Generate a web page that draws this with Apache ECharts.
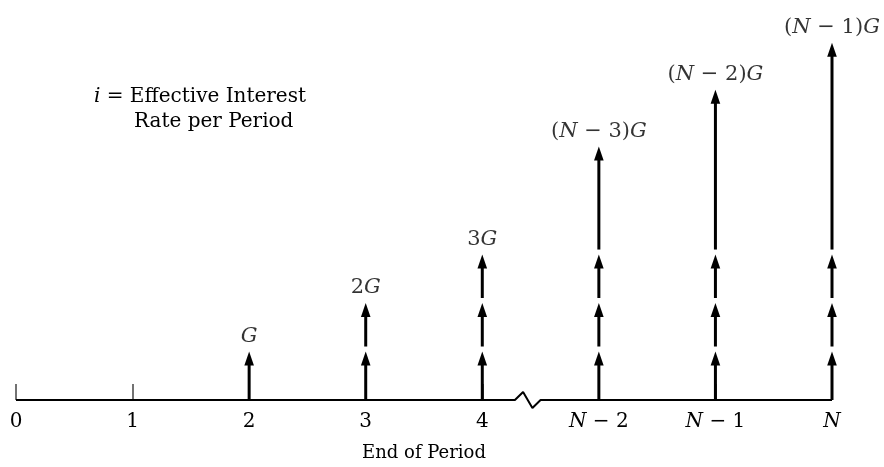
<!DOCTYPE html>
<html>
<head>
<meta charset="utf-8">
<script src="https://cdn.jsdelivr.net/npm/echarts@6/dist/echarts.min.js"></script>
<style>
html,body{margin:0;padding:0;background:#fff;}
#c{width:884px;height:467px;}
</style>
</head>
<body>
<div id="c"></div>
<script>
// ---- data ----
const categories = ['0', '1', '2', '3', '4', 'N − 2', 'N − 1', 'N'];
const arrowPositions = [2, 3, 4, 5, 6, 7];           // index on the period axis
const unitSegments   = [1, 2, 3, 3, 3, 3];           // stacked G-sized pieces
const arrowTops      = [1, 2, 3, 5.23, 6.40, 7.37];  // total height in G units
const arrowLabels    = ['G', '2G', '3G', '(N − 3)G', '(N − 2)G', '(N − 1)G'];
const breakX = [4.28, 4.35, 4.43, 4.50];             // zigzag break in axis
const breakY = [0, 0.165, -0.165, 0];
const axisTitle = 'End of Period';
const noteLine1 = 'i = Effective Interest';
const noteLine2 = 'Rate per Period';

const FONT = 'DejaVu Serif';
const INK = '#000';

function mathFmt(s) {
  return s.replace(/([NGi])(?![a-z])/g, '{it|$1}');
}
function richFor(size) {
  return { it: { fontFamily: FONT, fontStyle: 'italic', fontSize: size, color: INK } };
}

const baseline = [[0, 0]];
breakX.forEach((x, i) => baseline.push([x, breakY[i]]));
baseline.push([categories.length - 1, 0]);

const arrowData = arrowPositions.map((x, i) => [x, unitSegments[i], arrowTops[i]]);
const labelData = arrowPositions.map((x, i) => [x, arrowTops[i]]);

function renderArrow(params, api) {
  const x = api.value(0), n = api.value(1), top = api.value(2);
  const bounds = [];
  for (let k = 1; k <= n; k++) bounds.push(k);
  if (top > n + 0.01) bounds.push(top);
  const children = [];
  let prevTip = api.coord([x, 0])[1];
  const gap = 5, headH = 14, headW = 4.8;
  bounds.forEach((b, i) => {
    const tip = api.coord([x, b]);
    const y0 = i === 0 ? prevTip : prevTip - gap;
    children.push({
      type: 'line',
      shape: { x1: tip[0], y1: y0, x2: tip[0], y2: tip[1] + headH - 3 },
      style: { stroke: '#000', lineWidth: 3 }
    });
    children.push({
      type: 'polygon',
      shape: { points: [[tip[0], tip[1]], [tip[0] - headW, tip[1] + headH], [tip[0] + headW, tip[1] + headH]] },
      style: { fill: '#000' }
    });
    prevTip = tip[1];
  });
  return { type: 'group', children };
}

const chart = echarts.init(document.getElementById('c'), null, { renderer: 'canvas' });
chart.setOption({
  backgroundColor: '#fff',
  animation: false,
  title: [
    {
      text: mathFmt(noteLine1),
      left: 94, top: 87, padding: 0,
      textStyle: {
        fontFamily: FONT, fontSize: 20, fontWeight: 'normal', color: INK,
        rich: richFor(20)
      }
    },
    {
      text: noteLine2,
      left: 134, top: 112, padding: 0,
      textStyle: { fontFamily: FONT, fontSize: 20, fontWeight: 'normal', color: INK }
    }
  ],
  grid: { left: 16, right: 52, top: 0, bottom: 66 },
  xAxis: {
    type: 'value', min: 0, max: categories.length - 1, interval: 1,
    name: axisTitle, nameLocation: 'middle', nameGap: 44,
    nameTextStyle: { fontFamily: FONT, fontSize: 18, color: INK },
    axisLine: { show: false, onZero: false },
    axisTick: { show: true, inside: true, length: 16, lineStyle: { color: '#444', width: 1.5 } },
    splitLine: { show: false },
    axisLabel: {
      margin: 12, fontFamily: FONT, fontSize: 20, color: INK,
      formatter: v => mathFmt(categories[v] || ''),
      rich: richFor(20)
    }
  },
  yAxis: { type: 'value', min: 0, max: 8.25, show: false, splitLine: { show: false } },
  series: [
    {
      type: 'line', data: baseline, clip: false, symbol: 'none', silent: true,
      lineStyle: { color: '#000', width: 2 }, z: 3
    },
    {
      type: 'custom', data: arrowData, renderItem: renderArrow, clip: false, z: 4
    },
    {
      type: 'scatter', data: labelData, symbolSize: 1, silent: true,
      itemStyle: { color: 'rgba(0,0,0,0)' },
      label: {
        show: true, position: 'top', distance: 4,
        fontFamily: FONT, fontSize: 21, color: INK,
        formatter: p => mathFmt(arrowLabels[p.dataIndex]),
        rich: richFor(21)
      }
    }
  ]
});
</script>
</body>
</html>
